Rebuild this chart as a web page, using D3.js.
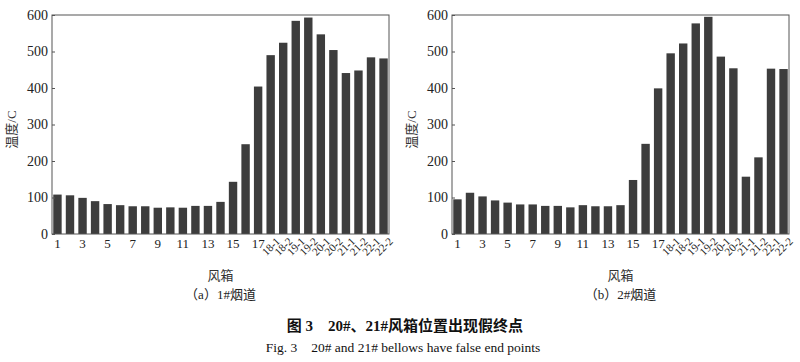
<!DOCTYPE html>
<html>
<head>
<meta charset="utf-8">
<script src="https://cdn.jsdelivr.net/npm/d3@7"></script>
<style>
  body { margin: 0; background: #fff; }
  svg { display: block; }
</style>
</head>
<body>
<svg id="chart" width="800" height="362"></svg>
<script>
// 风箱编号
const boxes = ['1', '2', '3', '4', '5', '6', '7', '8', '9', '10', '11', '12', '13', '14', '15', '16', '17',
    '18-1', '18-2', '19-1', '19-2', '20-1', '20-2', '21-1', '21-2', '22-1', '22-2']

// 1#烟道 温度
const flue1 = [108, 106, 99, 90, 82, 79, 76, 76, 72, 73, 72, 77, 77, 88, 143, 246, 404,
    490, 524, 584, 593, 547, 504, 441, 448, 484, 481]

// 2#烟道 温度
const flue2 = [95, 113, 103, 92, 86, 81, 81, 77, 77, 73, 79, 76, 76, 79, 148, 247, 399,
    495, 522, 577, 595, 486, 454, 157, 210, 453, 452]

const yTicks = [0, 100, 200, 300, 400, 500, 600]
const yTitle = '温度/C'
const xTitle = '风箱'
const panelTitles = ['（a）1#烟道', '（b）2#烟道']
const caption = '图 3　20#、21#风箱位置出现假终点'
const captionEn = 'Fig. 3　20# and 21# bellows have false end points'

const svg = d3.select('#chart')
const serif = '"Liberation Serif", "Times New Roman", serif'
const cjk = '"Liberation Serif", "Noto Sans CJK SC", serif'

const panels = [
    { data: flue1, left: 52, right: 389, title: panelTitles[0] },
    { data: flue2, left: 452, right: 789, title: panelTitles[1] }
]
const plotTop = 15
const plotBottom = 234

panels.forEach(function (p) {
    const g = svg.append('g')

    const x = d3.scaleBand().domain(boxes).range([p.left, p.right]).paddingInner(0.33).paddingOuter(0.1)
    const y = d3.scaleLinear().domain([0, 600]).range([plotBottom, plotTop])

    // 柱子
    g.selectAll('rect.bar')
        .data(p.data)
        .join('rect')
        .attr('class', 'bar')
        .attr('x', (d, i) => x(boxes[i]))
        .attr('y', (d) => y(d))
        .attr('width', x.bandwidth())
        .attr('height', (d) => y(0) - y(d))
        .attr('fill', '#3d3d3d')

    // 边框
    g.append('rect')
        .attr('x', p.left)
        .attr('y', plotTop)
        .attr('width', p.right - p.left)
        .attr('height', plotBottom - plotTop)
        .attr('fill', 'none')
        .attr('stroke', '#555')
        .attr('stroke-width', 1)

    // y轴 (刻度朝内)
    const yAxis = g.append('g')
        .attr('transform', `translate(${p.left},0)`)
        .call(d3.axisLeft(y).tickValues(yTicks).tickSize(-3).tickPadding(4))
    yAxis.select('.domain').remove()
    yAxis.selectAll('line').attr('stroke', '#555')
    yAxis.selectAll('text')
        .attr('font-family', serif)
        .attr('font-size', '14px')
        .attr('fill', '#222')

    // x轴标签
    const xLabels = g.append('g')
    boxes.forEach(function (b, i) {
        const cx = x(b) + x.bandwidth() / 2
        if (b.includes('-')) {
            xLabels.append('text')
                .text(b)
                .attr('font-family', serif)
                .attr('font-size', '11px')
                .attr('fill', '#222')
                .attr('text-anchor', 'end')
                .attr('transform', `translate(${cx + 10},${plotBottom + 8}) rotate(-45)`)
        } else if ((i + 1) % 2 === 1) {
            xLabels.append('text')
                .text(b)
                .attr('font-family', serif)
                .attr('font-size', '13px')
                .attr('fill', '#222')
                .attr('text-anchor', 'middle')
                .attr('x', cx)
                .attr('y', plotBottom + 14)
        }
    })

    // y轴标题
    g.append('text')
        .text(yTitle)
        .attr('font-family', cjk)
        .attr('font-size', '13px')
        .attr('fill', '#333')
        .attr('text-anchor', 'middle')
        .attr('transform', `translate(${p.left - 36},${(plotTop + plotBottom) / 2 + 5}) rotate(-90)`)

    // x轴标题
    const mid = (p.left + p.right) / 2
    g.append('text')
        .text(xTitle)
        .attr('font-family', cjk)
        .attr('font-size', '13px')
        .attr('fill', '#333')
        .attr('text-anchor', 'middle')
        .attr('x', mid)
        .attr('y', 280)

    g.append('text')
        .text(p.title)
        .attr('font-family', cjk)
        .attr('font-size', '13px')
        .attr('fill', '#222')
        .attr('text-anchor', 'middle')
        .attr('x', mid)
        .attr('y', 299)
})

// 图题
svg.append('text')
    .text(caption)
    .attr('font-family', cjk)
    .attr('font-size', '15px')
    .attr('font-weight', 'bold')
    .attr('fill', '#111')
    .attr('text-anchor', 'middle')
    .attr('x', 405)
    .attr('y', 331)

svg.append('text')
    .text(captionEn)
    .attr('font-family', serif)
    .attr('font-size', '13.5px')
    .attr('fill', '#111')
    .attr('text-anchor', 'middle')
    .attr('x', 403)
    .attr('y', 352)
</script>
</body>
</html>
